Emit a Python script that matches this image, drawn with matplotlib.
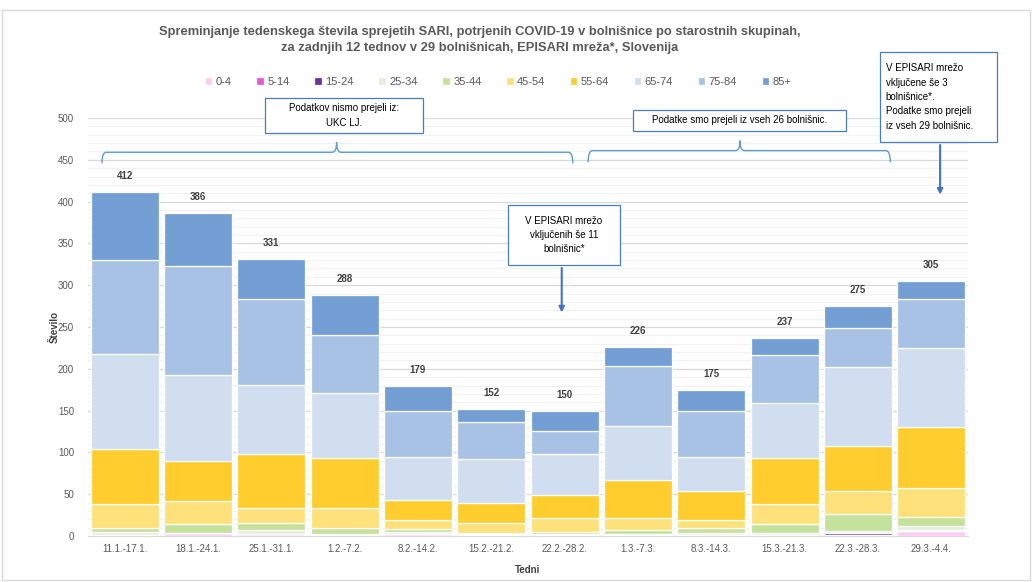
import numpy as np
import matplotlib
matplotlib.use('Agg')
import matplotlib.pyplot as plt
from matplotlib.path import Path
from matplotlib.patches import PathPatch, Rectangle

plt.rcParams['font.family'] = ['Liberation Sans', 'DejaVu Sans']

weeks = ['11.1.-17.1.', '18.1.-24.1.', '25.1.-31.1.', '1.2.-7.2.', '8.2.-14.2.', '15.2.-21.2.',
         '22.2.-28.2.', '1.3.-7.3.', '8.3.-14.3.', '15.3.-21.3.', '22.3.-28.3.', '29.3.-4.4.']
groups = ['0-4', '5-14', '15-24', '25-34', '35-44', '45-54', '55-64', '65-74', '75-84', '85+']
colors = ['#FFCCF5', '#E458D8', '#7030A0', '#E4F0DB', '#C5E29C', '#FFE17C',
          '#FFCD2E', '#D1DEEF', '#A7C2E4', '#739FD5']

a_0_4 = [1, 3, 2, 1, 2, 1, 1, 1, 1, 1, 1, 6]
a_5_14 = [0, 0, 0, 0, 0, 0, 0, 0, 0, 0, 0, 0]
a_15_24 = [0, 0, 0, 0, 0, 0, 0, 0, 0, 0, 2, 1]
a_25_34 = [4, 1, 5, 1, 3, 1, 1, 1, 2, 2, 3, 5]
a_35_44 = [4, 10, 9, 8, 3, 2, 3, 5, 6, 11, 20, 11]
a_45_54 = [29, 28, 18, 24, 11, 11, 17, 15, 10, 24, 28, 34]
a_55_64 = [66, 48, 64, 59, 24, 25, 27, 45, 35, 55, 54, 73]
a_65_74 = [114, 102, 83, 78, 51, 52, 49, 65, 41, 66, 94, 95]
a_75_84 = [112, 131, 103, 70, 56, 44, 28, 71, 55, 57, 47, 58]
a_85 = [82, 63, 47, 47, 29, 16, 24, 23, 25, 21, 26, 22]

series = [a_0_4, a_5_14, a_15_24, a_25_34, a_35_44, a_45_54, a_55_64, a_65_74, a_75_84, a_85]

fig = plt.figure(figsize=(10.34, 5.82), dpi=100)
ax = fig.add_axes([88 / 1034, 46 / 582, 880 / 1034, 418 / 582])

x = np.arange(len(weeks))
bottom = np.zeros(len(weeks))
for name, vals, c in zip(groups, series, colors):
    ax.bar(x, vals, 0.93, bottom=bottom, color=c, edgecolor='white', linewidth=0.9, label=name, zorder=3)
    bottom += np.array(vals)

for i, t in enumerate(bottom):
    ax.text(i, t + 13, '%d' % t, ha='center', va='bottom', fontsize=7, fontweight='bold', color='#404040')

ax.set_xlim(-0.5, 11.5)
ax.set_ylim(0, 500)
ax.set_yticks(np.arange(0, 501, 50))
ax.set_yticks(np.arange(0, 501, 10), minor=True)
ax.grid(axis='y', which='major', color='#D9D9D9', linewidth=0.9, zorder=0)
ax.grid(axis='y', which='minor', color='#F2F2F2', linewidth=0.9, zorder=0)
ax.set_xticks(x)
ax.set_xticklabels(weeks)
ax.tick_params(axis='both', which='both', length=0, colors='#595959', labelsize=7)
ax.tick_params(axis='y', pad=10)
ax.tick_params(axis='x', pad=6)
for s in ['top', 'right', 'left']:
    ax.spines[s].set_visible(False)
ax.spines['bottom'].set_color('#D9D9D9')
ax.set_ylabel('Število', fontsize=7, fontweight='bold', color='#404040', labelpad=-1)
ax.set_xlabel('Tedni', fontsize=7, fontweight='bold', color='#404040', labelpad=8)

fig.text(480 / 1034, 1 - 32 / 582, 'Spreminjanje tedenskega števila sprejetih SARI, potrjenih COVID-19 v bolnišnice po starostnih skupinah,',
         ha='center', va='center', fontsize=9.3, fontweight='bold', color='#595959')
fig.text(480 / 1034, 1 - 48 / 582, 'za zadnjih 12 tednov v 29 bolnišnicah, EPISARI mreža*, Slovenija',
         ha='center', va='center', fontsize=9.3, fontweight='bold', color='#595959')

fig.legend(loc='center', bbox_to_anchor=(498 / 1034, 1 - 82 / 582), ncol=10, frameon=False,
           fontsize=8, handlelength=0.7, handleheight=0.7, handletextpad=0.3, columnspacing=2.2,
           labelcolor='#595959')

# outer frame
fig.patches.append(Rectangle((2 / 1034, 2 / 582), 1028 / 1034, 570 / 582, transform=fig.transFigure,
                             fill=False, edgecolor='#D9D9D9', linewidth=1))

box_c = '#4A7EBB'


def note(x0, x1, y0, y1, txt, ha='center'):
    ax.add_patch(Rectangle((x0, y0), x1 - x0, y1 - y0, facecolor='white', edgecolor=box_c,
                           linewidth=0.9, clip_on=False, zorder=5))
    tx = (x0 + x1) / 2 if ha == 'center' else x0 + 0.08
    ax.text(tx, (y0 + y1) / 2, txt, ha=ha, va='center', fontsize=7, color='#000000',
            linespacing=1.55, zorder=6, clip_on=False)


def brace(x0, x1, xm, ye, yh, yt):
    d = 0.06
    verts = [(x0, ye), (x0, yh), (x0 + d, yh),
             (xm - d, yh), (xm, yh), (xm, yt),
             (xm, yh), (xm + d, yh),
             (x1 - d, yh), (x1, yh), (x1, ye)]
    codes = [Path.MOVETO, Path.CURVE3, Path.CURVE3,
             Path.LINETO, Path.CURVE3, Path.CURVE3,
             Path.CURVE3, Path.CURVE3,
             Path.LINETO, Path.CURVE3, Path.CURVE3]
    ax.add_patch(PathPatch(Path(verts, codes), fill=False, edgecolor='#5B9BD5', linewidth=1,
                           clip_on=False, zorder=5))


note(1.92, 4.07, 482, 524, 'Podatkov nismo prejeli iz:\nUKC LJ.')
brace(-0.31, 6.11, 2.89, 446, 459, 471)
note(6.93, 9.84, 485, 510, 'Podatke smo prejeli iz vseh 26 bolnišnic.')
brace(6.32, 10.44, 8.39, 447, 461, 473)
note(10.30, 11.90, 471, 579, 'V EPISARI mrežo\nvključene še 3\nbolnišnice*.\nPodatke smo prejeli\niz vseh 29 bolnišnic.', ha='left')
note(5.23, 6.75, 324, 396, 'V EPISARI mrežo\nvključenih še 11\nbolnišnic*')

ax.annotate('', xy=(11.12, 405), xytext=(11.12, 471), annotation_clip=False,
            arrowprops=dict(arrowstyle='-|>', color='#4472C4', lw=1.5, mutation_scale=8))
ax.annotate('', xy=(5.96, 264), xytext=(5.96, 324), annotation_clip=False,
            arrowprops=dict(arrowstyle='-|>', color='#4472C4', lw=1.5, mutation_scale=8))

fig.savefig('out.png', dpi=100)
